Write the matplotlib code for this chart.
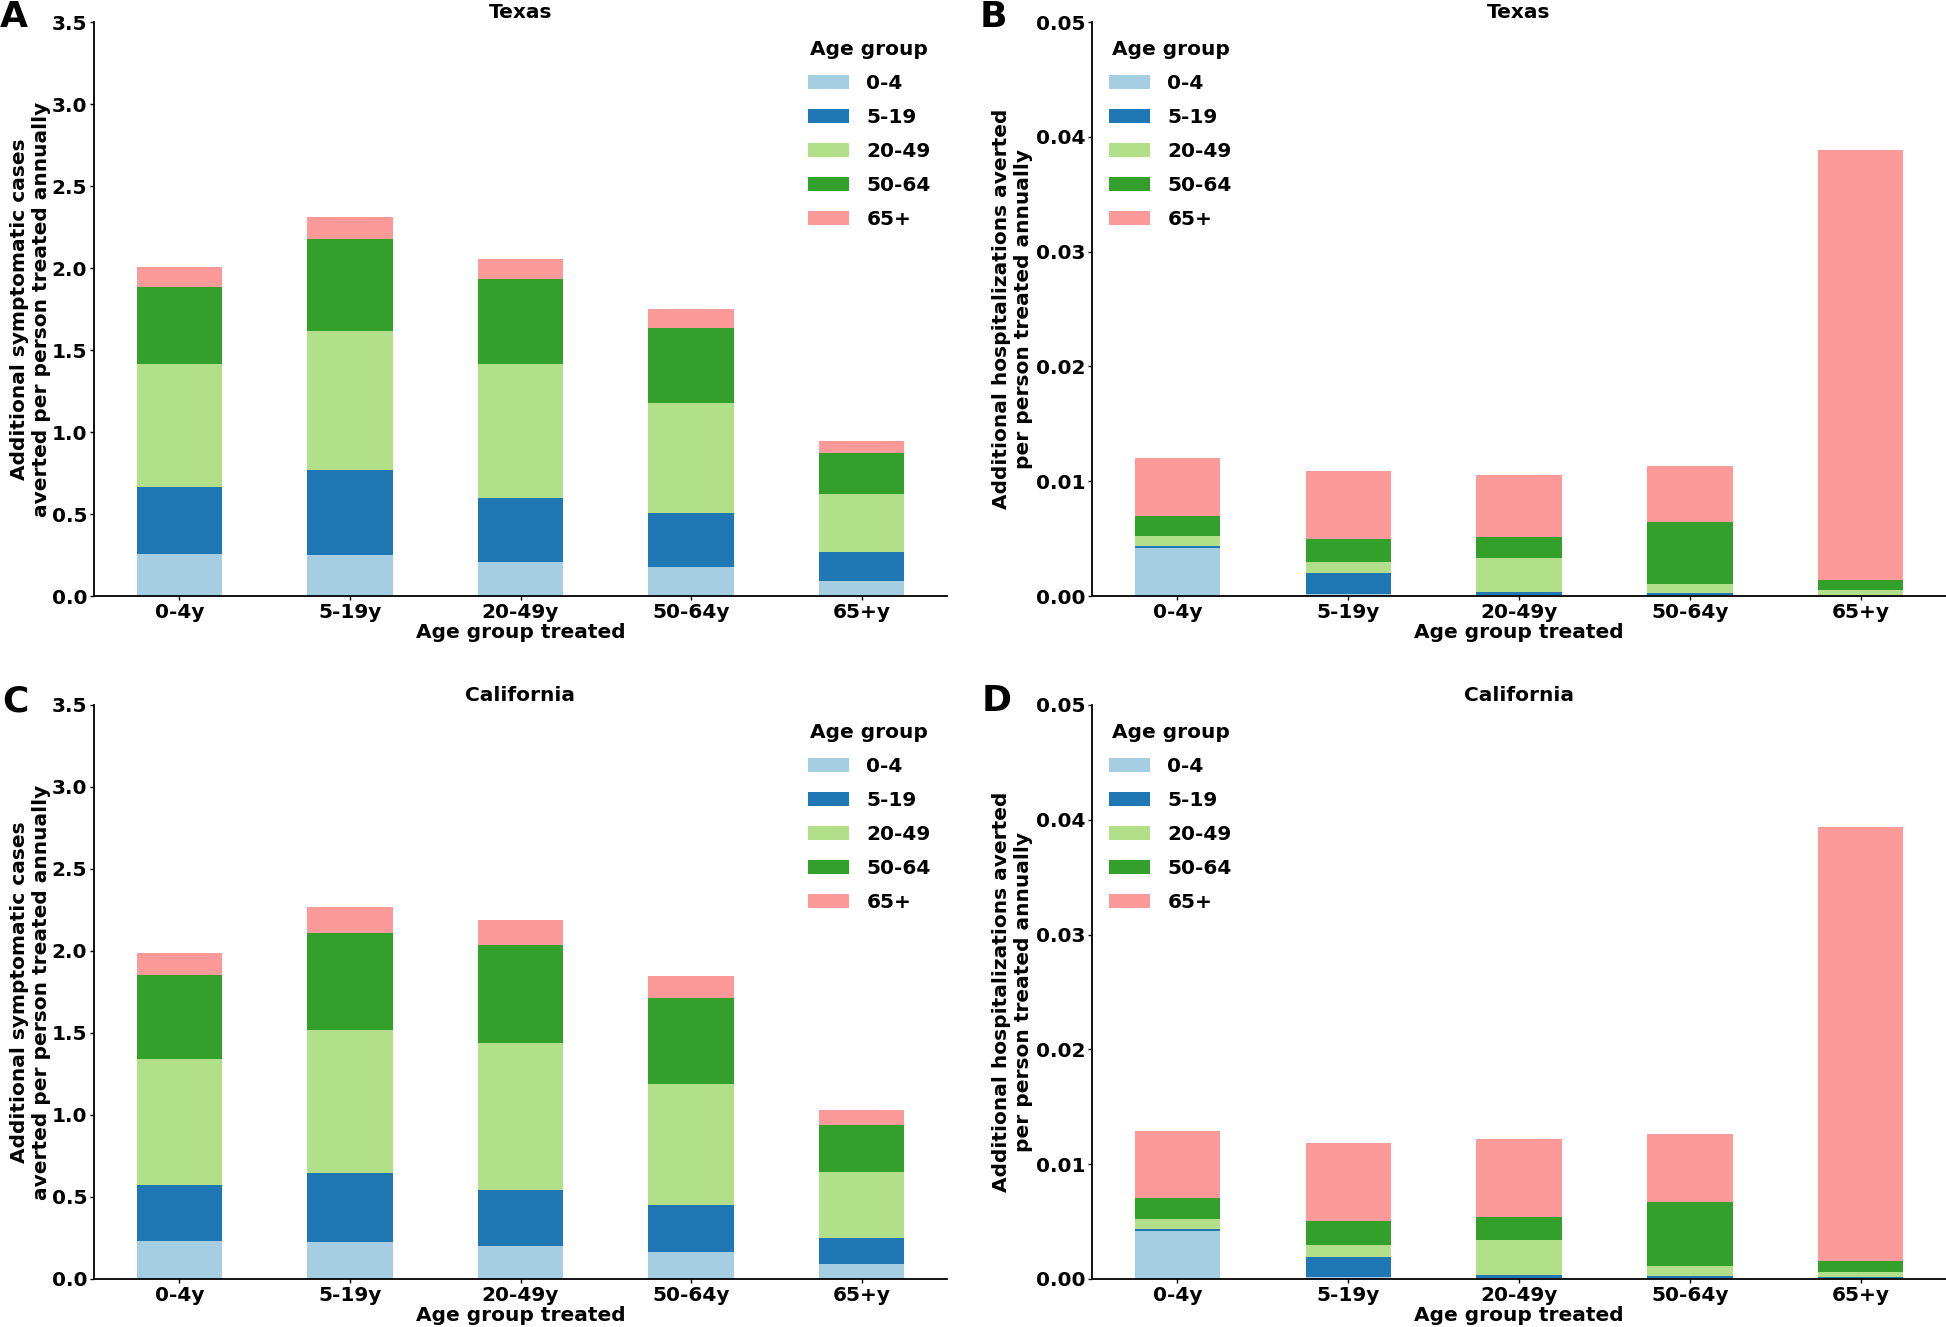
import matplotlib
matplotlib.use("Agg")
import matplotlib.pyplot as plt
import numpy as np

plt.rcParams['font.family'] = ['DejaVu Sans']
plt.rcParams['font.weight'] = 'bold'

# ---------------- data ----------------
treated_groups = ["0-4y", "5-19y", "20-49y", "50-64y", "65+y"]
age_groups = ["0-4", "5-19", "20-49", "50-64", "65+"]
colors = ["#a6cee3", "#1f78b4", "#b2df8a", "#33a02c", "#fb9a99"]

# Texas, symptomatic cases averted (segments per outcome age group)
tx_cases_0_4 = [0.256, 0.250, 0.207, 0.175, 0.091]
tx_cases_5_19 = [0.411, 0.518, 0.391, 0.329, 0.175]
tx_cases_20_49 = [0.746, 0.850, 0.815, 0.671, 0.358]
tx_cases_50_64 = [0.473, 0.559, 0.518, 0.457, 0.248]
tx_cases_65 = [0.118, 0.136, 0.124, 0.116, 0.075]

# Texas, hospitalizations averted
tx_hosp_0_4 = [0.00421, 0.00020, 0.00010, 0.00010, 0.00005]
tx_hosp_5_19 = [0.00017, 0.00180, 0.00025, 0.00020, 0.00005]
tx_hosp_20_49 = [0.00085, 0.00096, 0.00296, 0.00077, 0.00042]
tx_hosp_50_64 = [0.00171, 0.00201, 0.00186, 0.00540, 0.00087]
tx_hosp_65 = [0.00508, 0.00589, 0.00537, 0.00485, 0.03743]

# California, symptomatic cases averted
ca_cases_0_4 = [0.234, 0.224, 0.199, 0.165, 0.090]
ca_cases_5_19 = [0.339, 0.424, 0.342, 0.286, 0.158]
ca_cases_20_49 = [0.768, 0.870, 0.898, 0.738, 0.402]
ca_cases_50_64 = [0.513, 0.592, 0.598, 0.524, 0.287]
ca_cases_65 = [0.134, 0.158, 0.153, 0.135, 0.092]

# California, hospitalizations averted
ca_hosp_0_4 = [0.00418, 0.00017, 0.00010, 0.00010, 0.00005]
ca_hosp_5_19 = [0.00015, 0.00177, 0.00022, 0.00019, 0.00012]
ca_hosp_20_49 = [0.00087, 0.00102, 0.00305, 0.00084, 0.00041]
ca_hosp_50_64 = [0.00183, 0.00212, 0.00206, 0.00555, 0.00099]
ca_hosp_65 = [0.00588, 0.00677, 0.00673, 0.00592, 0.03783]

panels = [
    ("A", "Texas", [tx_cases_0_4, tx_cases_5_19, tx_cases_20_49, tx_cases_50_64, tx_cases_65],
     "Additional symptomatic cases\naverted per person treated annually", np.arange(0, 3.51, 0.5), "%.1f", "upper right"),
    ("B", "Texas", [tx_hosp_0_4, tx_hosp_5_19, tx_hosp_20_49, tx_hosp_50_64, tx_hosp_65],
     "Additional hospitalizations averted\nper person treated annually", np.arange(0, 0.051, 0.01), "%.2f", "upper left"),
    ("C", "California", [ca_cases_0_4, ca_cases_5_19, ca_cases_20_49, ca_cases_50_64, ca_cases_65],
     "Additional symptomatic cases\naverted per person treated annually", np.arange(0, 3.51, 0.5), "%.1f", "upper right"),
    ("D", "California", [ca_hosp_0_4, ca_hosp_5_19, ca_hosp_20_49, ca_hosp_50_64, ca_hosp_65],
     "Additional hospitalizations averted\nper person treated annually", np.arange(0, 0.051, 0.01), "%.2f", "upper left"),
]

W, H = 1946, 1327
fig = plt.figure(figsize=(W / 100, H / 100), dpi=100)

# axes rectangles in pixels (left, top, right, bottom)
rects = [(94, 22, 947, 596), (1092, 22, 1946, 596),
         (94, 705, 947, 1279), (1092, 705, 1946, 1279)]
letter_pos = [(0, 27), (980, 27), (2, 711), (982, 711)]

FS = 14.5
for (letter, title, series, ylabel, yticks, fmt, legloc), (l, t, r, b), (lx, ly) in zip(panels, rects, letter_pos):
    ax = fig.add_axes([l / W, 1 - b / H, (r - l) / W, (b - t) / H])
    x = np.arange(len(treated_groups))
    bottom = np.zeros(len(treated_groups))
    for name, vals, c in zip(age_groups, series, colors):
        vals = np.array(vals)
        ax.bar(x, vals, width=0.5, bottom=bottom, color=c, label=name, linewidth=0)
        bottom += vals
    ax.set_xlim(-0.5, 4.5)
    ax.set_ylim(yticks[0], yticks[-1])
    ax.set_yticks(yticks)
    ax.set_yticklabels([fmt % v for v in yticks], fontsize=FS, fontweight='bold')
    ax.set_xticks(x)
    ax.set_xticklabels(treated_groups, fontsize=FS, fontweight='bold')
    ax.tick_params(axis='both', length=3, width=1, pad=2)
    for s in ['top', 'right']:
        ax.spines[s].set_visible(False)
    for s in ['left', 'bottom']:
        ax.spines[s].set_linewidth(1.3)
    ax.set_title(title, fontsize=FS, fontweight='bold', pad=2)
    ax.set_xlabel("Age group treated", fontsize=FS, fontweight='bold', labelpad=1)
    ax.set_ylabel(ylabel, fontsize=FS, fontweight='bold')
    if legloc == "upper right":
        ax.yaxis.set_label_coords(-0.050, 0.5)
        anchor = (0.981, 0.968)
    else:
        ax.yaxis.set_label_coords(-0.069, 0.5)
        anchor = (0.020, 0.968)
    leg = ax.legend(title="Age group", loc=legloc, bbox_to_anchor=anchor, frameon=False,
                    title_fontproperties={'weight': 'bold', 'size': FS},
                    prop={'weight': 'bold', 'size': FS},
                    borderpad=0, borderaxespad=0, handlelength=2.05, handleheight=0.72,
                    handletextpad=0.85, labelspacing=0.74)
    fig.text(lx / W, 1 - ly / H, letter, fontsize=26, fontweight='bold', ha='left', va='baseline')

fig.savefig("out.png", dpi=100)
